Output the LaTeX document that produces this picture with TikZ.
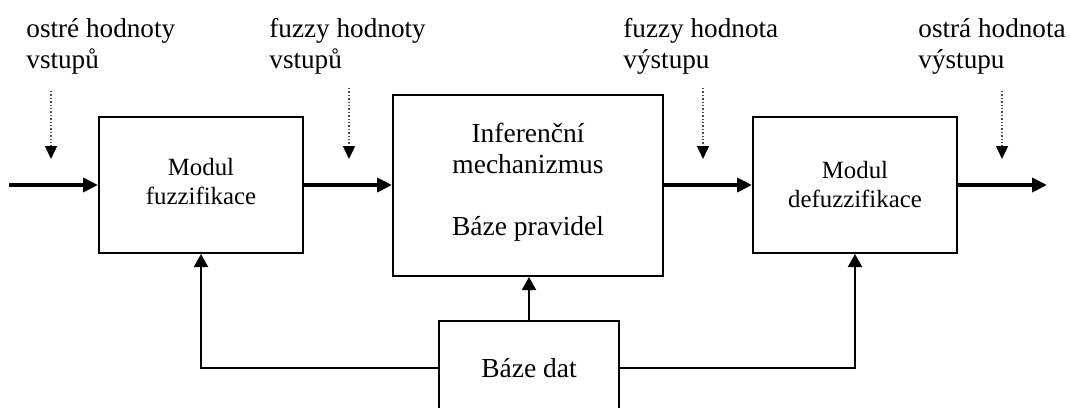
\documentclass[tikz,border=0pt]{standalone}
\usepackage{fontspec}
\setmainfont{Liberation Serif}
\usetikzlibrary{arrows.meta}
\begin{document}
\begin{tikzpicture}[x=0.5pt,y=-0.5pt,
  blockbox/.style={draw, line width=1pt, align=center, inner sep=0pt},
  modfont/.style={font=\fontsize{12.4}{14.5}\selectfont},
  bigfont/.style={font=\fontsize{13.75}{15.5}\selectfont},
  lbl/.style={font=\fontsize{13.6}{15.5}\selectfont, align=left, anchor=base west, inner sep=0pt},
  flow/.style={line width=2.2pt, -{Triangle[length=7.5pt,width=7pt]}},
  feed/.style={line width=1pt, -{Triangle[length=6.5pt,width=7pt]}},
  hint/.style={densely dotted, line width=0.7pt, black!70, -{Triangle[length=6.5pt,width=6pt,color=black]}},
]
\useasboundingbox (0,0) rectangle (1070,407);
\fill[white] (0,0) rectangle (1070,407);

% blocks
\node[blockbox, modfont, minimum width=102pt, minimum height=68pt] (fuzz) at (201,185)
  {Modul\\fuzzifikace\rule[-4pt]{0pt}{4pt}};
\node[blockbox, bigfont, minimum width=135pt, minimum height=90.5pt] (inf) at (528,185.5)
  {Inferenční\\mechanizmus\\[15.5pt]Báze pravidel\rule[-6pt]{0pt}{6pt}};
\node[blockbox, modfont, minimum width=102pt, minimum height=68pt] (defuzz) at (855,185)
  {Modul\\defuzzifikace\rule[-1pt]{0pt}{1pt}};
\node[blockbox, bigfont, minimum width=90pt, minimum height=47pt] (data) at (529,368)
  {Báze dat};

% labels (anchor at baseline of the second line)
\node[lbl] (l1) at (26,68) {ostré hodnoty\\vstupů};
\node[lbl] (l2) at (269,68) {fuzzy hodnoty\\vstupů};
\node[lbl] (l3) at (623,68) {fuzzy hodnota\\výstupu};
\node[lbl] (l4) at (918,68) {ostrá hodnota\\výstupu};

% free ends
\coordinate (in) at (9,185);
\coordinate (out) at (1047,185);
\coordinate (h1s) at (51,91);   \coordinate (h1e) at (51,159);
\coordinate (h2s) at (349,88);  \coordinate (h2e) at (349,159);
\coordinate (h3s) at (703,88);  \coordinate (h3e) at (703,159);
\coordinate (h4s) at (1002,91); \coordinate (h4e) at (1002,159);

% main flow
\draw[flow] (in) -- (fuzz.west);
\draw[flow] (fuzz.east) -- (inf.west |- fuzz.east);
\draw[flow] (inf.east |- defuzz.west) -- (defuzz.west);
\draw[flow] (defuzz.east) -- (out);

% hints
\draw[hint] (h1s) -- (h1e);
\draw[hint] (h2s) -- (h2e);
\draw[hint] (h3s) -- (h3e);
\draw[hint] (h4s) -- (h4e);

% feedback from data base
\draw[feed] (data.west) -| (fuzz.south);
\draw[feed] (data.east) -| (defuzz.south);
\draw[feed] (data.north) -- (data.north |- inf.south);
\end{tikzpicture}
\end{document}
